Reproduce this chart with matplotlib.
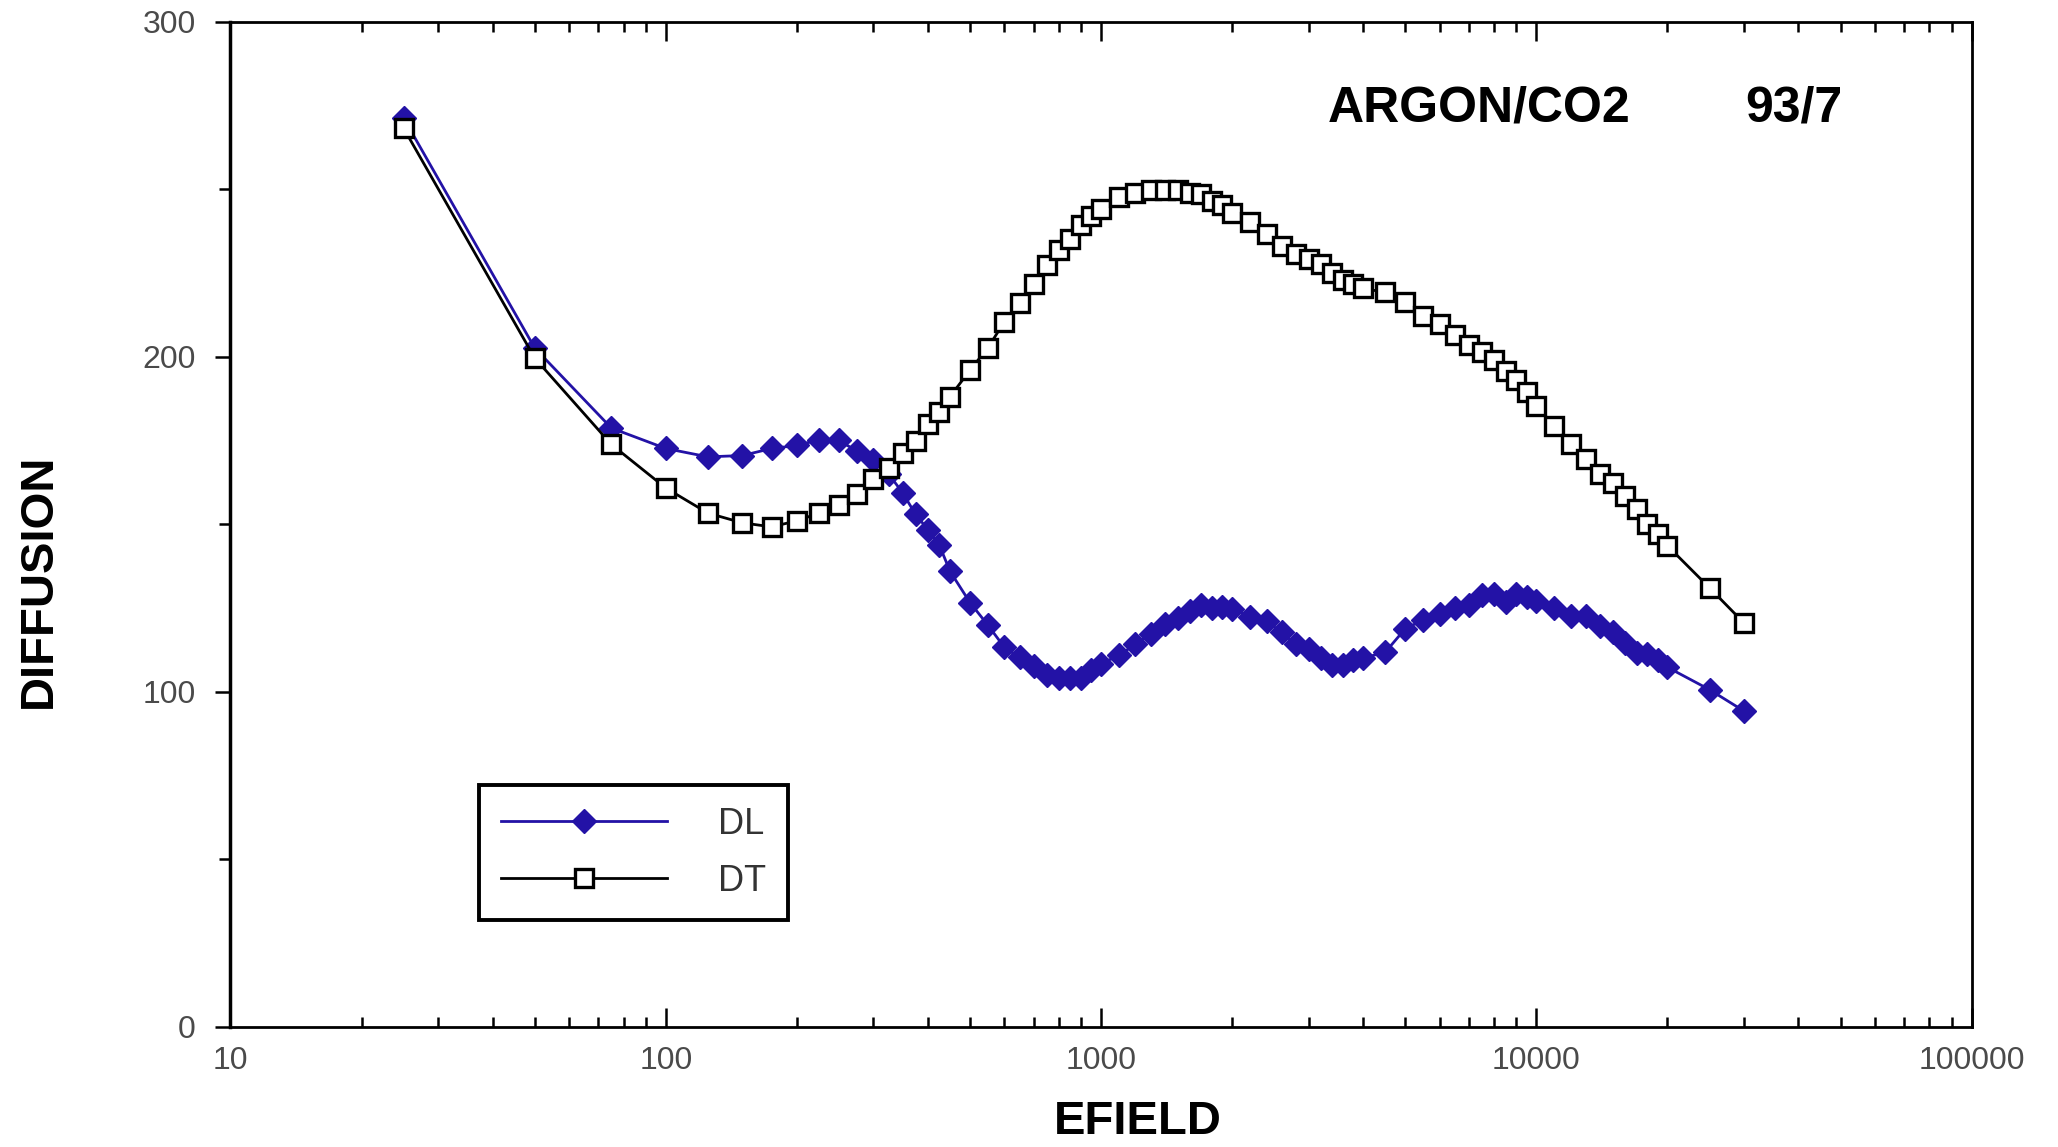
import matplotlib
matplotlib.use("Agg")
from matplotlib import pyplot as plt
from matplotlib.ticker import FixedLocator, MultipleLocator, LogLocator, NullFormatter

plt.rcParams['font.family'] = ['Liberation Sans', 'DejaVu Sans']

# electric field values (same grid for both series)
efield = [25, 50, 75, 100, 125, 150, 175, 200, 225, 250, 275, 300, 325, 350, 375,
          400, 425, 450, 500, 550, 600, 650, 700, 750, 800, 850, 900, 950, 1000,
          1100, 1200, 1300, 1400, 1500, 1600, 1700, 1800, 1900, 2000, 2200, 2400,
          2600, 2800, 3000, 3200, 3400, 3600, 3800, 4000, 4500, 5000, 5500, 6000,
          6500, 7000, 7500, 8000, 8500, 9000, 9500, 10000, 11000, 12000, 13000,
          14000, 15000, 16000, 17000, 18000, 19000, 20000, 25000, 30000]

# longitudinal diffusion
dl = [271.2, 202.6, 178.7, 172.6, 170.1, 170.5, 172.6, 173.5, 175.2, 175.0, 171.8,
      169.2, 165.0, 159.4, 152.9, 148.4, 143.8, 135.9, 126.6, 119.8, 113.2, 110.2,
      107.6, 105.1, 104.1, 104.0, 104.0, 106.4, 108.4, 110.8, 114.2, 117.2, 120.1,
      122.0, 124.0, 126.0, 125.0, 125.2, 124.8, 122.3, 121.0, 117.7, 114.1, 112.6,
      110.0, 108.0, 108.0, 109.3, 110.0, 111.8, 118.8, 121.4, 123.1, 125.0, 125.9,
      128.9, 129.3, 126.8, 129.2, 128.2, 127.2, 125.1, 122.6, 122.5, 119.5, 117.9,
      114.4, 111.4, 111.3, 109.3, 107.3, 100.6, 94.2]

# transverse diffusion
dt = [268.2, 199.6, 173.8, 160.8, 153.3, 150.4, 149.2, 151.0, 153.3, 155.7, 159.1,
      163.5, 166.7, 171.4, 174.8, 180.0, 183.5, 188.1, 196.0, 202.7, 210.5, 216.0,
      221.7, 227.3, 232.0, 235.2, 239.4, 242.0, 244.0, 247.7, 248.9, 249.8, 249.8,
      249.8, 249.0, 248.7, 246.4, 245.4, 242.8, 240.1, 236.6, 233.2, 230.7, 229.1,
      227.6, 225.0, 222.8, 221.6, 220.4, 219.2, 216.3, 212.3, 209.8, 206.6, 203.5,
      201.5, 198.9, 195.8, 193.0, 189.5, 185.4, 179.3, 173.8, 169.6, 164.9, 162.2,
      158.5, 154.5, 150.2, 147.0, 143.6, 131.0, 120.5]

x_ticks = [10, 100, 1000, 10000, 100000]
x_labels = ['10', '100', '1000', '10000', '100000']
y_ticks = [0, 100, 200, 300]
y_labels = ['0', '100', '200', '300']

BLUE = '#2312a6'

fig = plt.figure(figsize=(20.58, 11.47), dpi=100)
ax = fig.add_axes([0.112, 0.105, 0.846, 0.876])

ax.plot(efield, dl, color=BLUE, lw=2.0, marker='D', ms=12.5, mec=BLUE, mfc=BLUE,
        label='DL', zorder=3)
ax.plot(efield, dt, color='black', lw=2.0, marker='s', ms=13, mfc='white',
        mec='black', mew=2.4, label='DT', zorder=4)

ax.set_xscale('log')
ax.set_xlim(10, 100000)
ax.set_ylim(0, 300)

ax.xaxis.set_major_locator(FixedLocator(x_ticks))
ax.set_xticklabels(x_labels)
ax.xaxis.set_minor_locator(LogLocator(base=10, subs=range(2, 10)))
ax.xaxis.set_minor_formatter(NullFormatter())
ax.yaxis.set_major_locator(FixedLocator(y_ticks))
ax.set_yticklabels(y_labels)
ax.yaxis.set_minor_locator(MultipleLocator(50))

ax.tick_params(axis='x', which='both', direction='in', top=True, bottom=True,
               width=1.8, colors='black', labelcolor='#4a4a4a', labelsize=23, pad=14)
ax.tick_params(axis='x', which='major', length=14)
ax.tick_params(axis='x', which='minor', length=7)
ax.tick_params(axis='y', which='both', direction='out', left=True, right=False,
               width=1.8, colors='black', labelcolor='#4a4a4a', labelsize=23, pad=14)
ax.tick_params(axis='y', which='major', length=11)
ax.tick_params(axis='y', which='minor', length=8)

for side in ['top', 'right', 'bottom']:
    ax.spines[side].set_linewidth(2.0)
ax.spines['left'].set_linewidth(2.5)

leg = ax.legend(loc='upper left', bbox_to_anchor=(0.143, 0.24), fontsize=26,
                handlelength=4.6, handletextpad=1.4, labelspacing=0.6,
                borderpad=0.6, borderaxespad=0, numpoints=1, frameon=True,
                fancybox=False, framealpha=1, edgecolor='black')
leg.get_frame().set_linewidth(2.8)
for t in leg.get_texts():
    t.set_color('#333333')

fig.text(0.7187, 0.9058, 'ARGON/CO2', ha='center', va='center', fontsize=36,
         fontweight='bold')
fig.text(0.8717, 0.9058, '93/7', ha='center', va='center', fontsize=36,
         fontweight='bold')
fig.text(0.553, 0.022, 'EFIELD', ha='center', va='center', fontsize=34,
         fontweight='bold')
fig.text(0.019, 0.494, 'DIFFUSION', ha='center', va='center', fontsize=34,
         fontweight='bold', rotation=90)

fig.savefig('out.png', dpi=100, facecolor='white')
